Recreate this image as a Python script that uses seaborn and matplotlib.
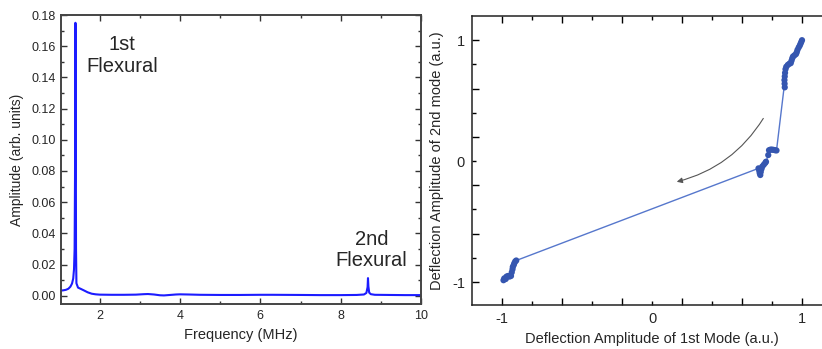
import numpy as np
import pandas as pd
import matplotlib
matplotlib.use("Agg")
import matplotlib.pyplot as plt
from matplotlib.ticker import FixedLocator, MultipleLocator, FixedFormatter
import seaborn as sns

# ---------------- data ----------------
freq_mhz = [1.04, 1.10, 1.16, 1.22, 1.27, 1.31, 1.34, 1.36, 1.375, 1.385, 1.39, 1.395,
            1.40, 1.405, 1.41, 1.42, 1.46, 1.52, 1.60, 1.70, 1.80, 1.90, 2.0, 2.3, 2.6,
            2.9, 3.1, 3.2, 3.35, 3.5, 3.6, 3.75, 3.9, 4.0, 4.2, 4.5, 5.0, 5.5, 6.0, 6.3,
            7.0, 7.5, 8.0, 8.4, 8.58, 8.64, 8.67, 8.68, 8.69, 8.71, 8.75, 8.85, 9.2, 9.6, 10.0]
amplitude = [0.0033, 0.0035, 0.0038, 0.0045, 0.0058, 0.0078, 0.011, 0.017, 0.030, 0.075, 0.13, 0.175,
             0.172, 0.10, 0.030, 0.008, 0.0052, 0.0045, 0.0035, 0.0022, 0.0013, 0.0009, 0.0007, 0.0006, 0.0006,
             0.0007, 0.0010, 0.0011, 0.0008, 0.0003, 0.0002, 0.0005, 0.0008, 0.0009, 0.0008, 0.0006, 0.0005, 0.0005, 0.0006, 0.0006,
             0.0005, 0.0004, 0.0004, 0.0005, 0.0008, 0.0018, 0.0055, 0.0113, 0.0060, 0.0020, 0.0010, 0.0006, 0.0005, 0.0004, 0.0004]

mode1 = [-0.99, -0.985, -0.975, -0.97, -0.96, -0.95, -0.94, -0.935, -0.93, -0.928, -0.922, -0.918, -0.912, -0.905,
         0.71, 0.715, 0.718, 0.722, 0.725, 0.73, 0.735, 0.745, 0.755, 0.76,
         0.775, 0.78, 0.79, 0.80, 0.81, 0.82, 0.83,
         0.885, 0.884, 0.883, 0.885, 0.887, 0.89, 0.895, 0.905, 0.915, 0.925,
         0.93, 0.935, 0.94, 0.95, 0.96, 0.965, 0.97, 0.978, 0.985, 0.99, 0.995, 1.0]
mode2 = [-0.985, -0.97, -0.975, -0.955, -0.95, -0.955, -0.95, -0.92, -0.895, -0.875, -0.86, -0.845, -0.83, -0.822,
         -0.06, -0.08, -0.10, -0.115, -0.09, -0.065, -0.045, -0.03, -0.015, -0.005,
         0.05, 0.09, 0.095, 0.095, 0.093, 0.09, 0.088,
         0.61, 0.64, 0.67, 0.70, 0.73, 0.76, 0.78, 0.795, 0.805, 0.81,
         0.83, 0.85, 0.865, 0.875, 0.885, 0.90, 0.92, 0.94, 0.955, 0.97, 0.985, 1.0]

arrow_start = (0.742, 0.353)
arrow_end = (0.165, -0.171)

spec = pd.DataFrame({"f": freq_mhz, "a": amplitude})
traj = pd.DataFrame({"x": mode1, "y": mode2})

# ---------------- style ----------------
sns.set_style("ticks")
plt.rcParams["font.family"] = ["Liberation Sans", "DejaVu Sans"]

W, H = 822, 349
fig = plt.figure(figsize=(W / 100, H / 100), dpi=100)

def pos(l, t, r, b):
    return [l / W, 1 - b / H, (r - l) / W, (b - t) / H]

# ---------------- left panel ----------------
ax1 = fig.add_axes(pos(61, 15, 421, 304))
sns.lineplot(data=spec, x="f", y="a", ax=ax1, color="#1c1cff", lw=1.5, sort=False)
ax1.set_xlim(1.036, 10)
ax1.set_ylim(-0.0053, 0.18)
ax1.xaxis.set_major_locator(FixedLocator([2, 4, 6, 8, 10]))
ax1.xaxis.set_minor_locator(MultipleLocator(1))
ax1.yaxis.set_major_locator(MultipleLocator(0.02))
ax1.yaxis.set_minor_locator(MultipleLocator(0.01))
ax1.yaxis.set_major_formatter(matplotlib.ticker.FormatStrFormatter("%.2f"))
ax1.tick_params(which="both", direction="in", top=True, right=True, color="#333333")
ax1.tick_params(which="major", length=4, width=1, labelsize=9, pad=4)
ax1.tick_params(which="minor", length=2, width=1)
for s in ax1.spines.values():
    s.set_color("#444444")
    s.set_linewidth(1.4)
ax1.set_xlabel("Frequency (MHz)", fontsize=10.5, labelpad=5)
ax1.set_ylabel("Amplitude (arb. units)", fontsize=10, labelpad=5)
ax1.text(2.55, 0.154, "1st\nFlexural", fontsize=14.5, ha="center", va="center", linespacing=1.15)
ax1.text(8.77, 0.0295, "2nd\nFlexural", fontsize=14.5, ha="center", va="center", linespacing=1.15)

# ---------------- right panel ----------------
ax2 = fig.add_axes(pos(472, 16, 832, 305))
sns.lineplot(data=traj, x="x", y="y", ax=ax2, color="#5677cc", lw=1.0, sort=False)
sns.scatterplot(data=traj, x="x", y="y", ax=ax2, color="#3556b0", s=20, edgecolor="none", zorder=3)
ax2.set_xlim(-1.2, 1.2)
ax2.set_ylim(-1.19, 1.2)
maj = [-1, -0.6, -0.2, 0.2, 0.6, 1]
mnr = [-0.8, -0.4, 0, 0.4, 0.8]
for axis in (ax2.xaxis, ax2.yaxis):
    axis.set_major_locator(FixedLocator(maj))
    axis.set_major_formatter(FixedFormatter(["-1", "", "", "", "", "1"]))
    axis.set_minor_locator(FixedLocator(mnr))
    axis.set_minor_formatter(FixedFormatter(["", "", "0", "", ""]))
ax2.tick_params(which="both", direction="in", top=True, right=True, labelsize=10.5, color="black", pad=5)
ax2.tick_params(which="major", length=5, width=1)
ax2.tick_params(which="minor", length=3, width=1)
for s in ax2.spines.values():
    s.set_color("#222222")
    s.set_linewidth(1.1)
ax2.set_xlabel("Deflection Amplitude of 1st Mode (a.u.)", fontsize=10.5, labelpad=4)
ax2.set_ylabel("Deflection Amplitude of 2nd mode (a.u.)", fontsize=10.5, labelpad=6)
ax2.annotate("", xy=arrow_end, xytext=arrow_start,
             arrowprops=dict(arrowstyle="-|>", color="#555555", lw=0.8,
                             connectionstyle="arc3,rad=-0.2", mutation_scale=8,
                             shrinkA=0, shrinkB=0))

fig.savefig("out.png", dpi=100)
